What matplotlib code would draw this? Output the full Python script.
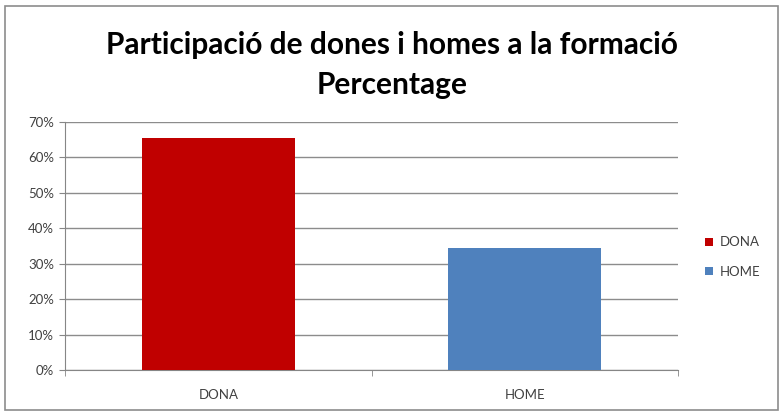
import matplotlib
matplotlib.use("Agg")
import matplotlib.pyplot as plt
from matplotlib.patches import Rectangle, Patch
from matplotlib.ticker import FuncFormatter, FixedLocator

categories = ["DONA", "HOME"]
values = [65.5, 34.5]
colors = ["#C00000", "#4F81BD"]
yticks = [0, 10, 20, 30, 40, 50, 60, 70]

W, H = 784, 416
fig = plt.figure(figsize=(W / 100, H / 100), dpi=100)
plt.rcParams['font.family'] = ['Lato', 'DejaVu Sans']

# outer chart border
fig.patches.append(Rectangle((5 / W, 6 / H), 773 / W, 404 / H, transform=fig.transFigure,
                             fill=False, edgecolor="#8c8c8c", linewidth=1.2))

left, right = 65, 678
top, bottom = 122, 370
ax = fig.add_axes([left / W, 1 - bottom / H, (right - left) / W, (bottom - top) / H])

x = list(range(len(categories)))
ax.bar(x, values, width=0.5, color=colors, zorder=3)
ax.set_xlim(-0.5, len(categories) - 0.5)
ax.set_ylim(0, 70)
ax.set_yticks(yticks)
ax.yaxis.set_major_formatter(FuncFormatter(lambda v, p: f"{int(v)}%"))
ax.set_xticks(x)
ax.set_xticklabels(categories)
ax.xaxis.set_minor_locator(FixedLocator([-0.5, 0.5, 1.5]))
ax.tick_params(axis="x", which="major", length=0, pad=14, labelsize=9.5, labelcolor="#404040")
ax.tick_params(axis="x", which="minor", length=4, color="#868686", direction="out")
ax.tick_params(axis="y", length=4, color="#868686", labelsize=9.5, labelcolor="#404040", pad=4)
ax.grid(axis="y", color="#8c8c8c", linewidth=1, zorder=0)
for s in ["top", "right"]:
    ax.spines[s].set_visible(False)
for s in ["left", "bottom"]:
    ax.spines[s].set_color("#868686")

fig.text(0.5, 1 - 45 / H, "Participació de dones i homes a la formació", ha="center", va="center",
         fontsize=21.5, fontweight="bold", color="#000000")
fig.text(0.5, 1 - 85 / H, "Percentage", ha="center", va="center",
         fontsize=21.5, fontweight="bold", color="#000000")

handles = [Patch(facecolor=c) for c in colors]
fig.legend(handles, categories, loc="center left", bbox_to_anchor=(693 / W, 1 - 257 / H),
           frameon=False, fontsize=9.5, handlelength=0.6, handleheight=0.6,
           handletextpad=0.5, labelspacing=1.3, labelcolor="#404040")

fig.savefig("out.png", dpi=100)
